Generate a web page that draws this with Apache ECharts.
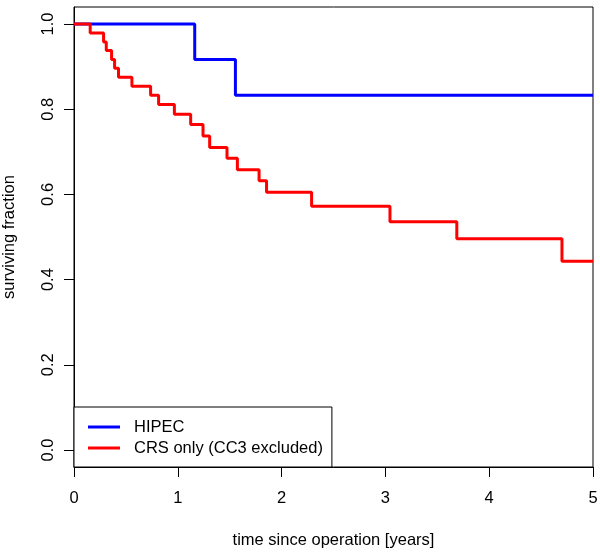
<!DOCTYPE html>
<html>
<head>
<meta charset="utf-8">
<script src="https://cdn.jsdelivr.net/npm/echarts@6/dist/echarts.min.js"></script>
<style>
  html, body { margin: 0; padding: 0; background: #fff; }
  #chart { width: 600px; height: 552px; }
</style>
</head>
<body>
<div id="chart"></div>
<script>
// Kaplan-Meier steps: [time in years, surviving fraction]
const hipec = [
    [0, 1.0], [1.163, 0.917], [1.555, 0.833], [5, 0.833]
];
const crsOnly = [
    [0, 1.0], [0.156, 0.979], [0.285, 0.958], [0.311, 0.938], [0.362, 0.917],
    [0.391, 0.896], [0.429, 0.875], [0.558, 0.854], [0.738, 0.833], [0.815, 0.811],
    [0.967, 0.788], [1.124, 0.764], [1.243, 0.737], [1.307, 0.710], [1.474, 0.685],
    [1.574, 0.658], [1.783, 0.632], [1.855, 0.605], [2.289, 0.572], [3.044, 0.536],
    [3.688, 0.496], [4.701, 0.443], [5, 0.443]
];
const seriesNames = ["HIPEC", "CRS only (CC3 excluded)"];
const yTicks = [0, 0.2, 0.4, 0.6, 0.8, 1.0];

const font = "Liberation Sans, Arial, sans-serif";
const fs = 16.5;
const myChart = echarts.init(document.getElementById("chart"));
const option = {
    animation: false,
    backgroundColor: "#fff",
    grid: {
        left: 74, right: 7, top: 7, bottom: 85,
        show: true, borderColor: "#000", borderWidth: 1,
        outerBoundsMode: "none"
    },
    legend: {
        data: seriesNames,
        orient: "vertical",
        left: 74, bottom: 85,
        padding: [10, 9, 9, 14],
        itemGap: 1,
        itemWidth: 32, itemHeight: 3,
        icon: "rect",
        backgroundColor: "#fff",
        borderColor: "#000", borderWidth: 1, borderRadius: 0,
        textStyle: {fontFamily: font, fontSize: fs, color: "#000", lineHeight: 20, padding: [0, 0, 0, 9]}
    },
    xAxis: {
        type: "value",
        min: 0, max: 5, interval: 1,
        name: "time since operation [years]",
        nameLocation: "middle", nameGap: 65,
        nameTextStyle: {fontFamily: font, fontSize: fs, color: "#000"},
        axisLine: {show: true, onZero: false, lineStyle: {color: "#000", width: 1}},
        axisTick: {show: true, inside: false, length: 10, lineStyle: {color: "#000"}},
        axisLabel: {fontFamily: font, fontSize: fs, color: "#000", margin: 23},
        splitLine: {show: false}
    },
    yAxis: {
        type: "value",
        min: -0.04, max: 1.04,
        name: "surviving fraction",
        nameLocation: "middle", nameGap: 56,
        nameTextStyle: {fontFamily: font, fontSize: fs, color: "#000"},
        axisLine: {show: true, onZero: false, lineStyle: {color: "#000", width: 1}},
        axisTick: {show: true, inside: false, length: 10, customValues: yTicks, lineStyle: {color: "#000"}},
        axisLabel: {
            fontFamily: font, fontSize: fs, color: "#000", margin: 17, rotate: 90,
            customValues: yTicks,
            formatter: v => v.toFixed(1)
        },
        splitLine: {show: false}
    },
    series: [
        {
            name: seriesNames[0], type: "line", step: "end",
            data: hipec, symbol: "none",
            lineStyle: {color: "#0000ff", width: 3},
            itemStyle: {color: "#0000ff"}
        },
        {
            name: seriesNames[1], type: "line", step: "end",
            data: crsOnly, symbol: "none",
            lineStyle: {color: "#ff0000", width: 3},
            itemStyle: {color: "#ff0000"}
        }
    ]
};
myChart.setOption(option);
</script>
</body>
</html>
